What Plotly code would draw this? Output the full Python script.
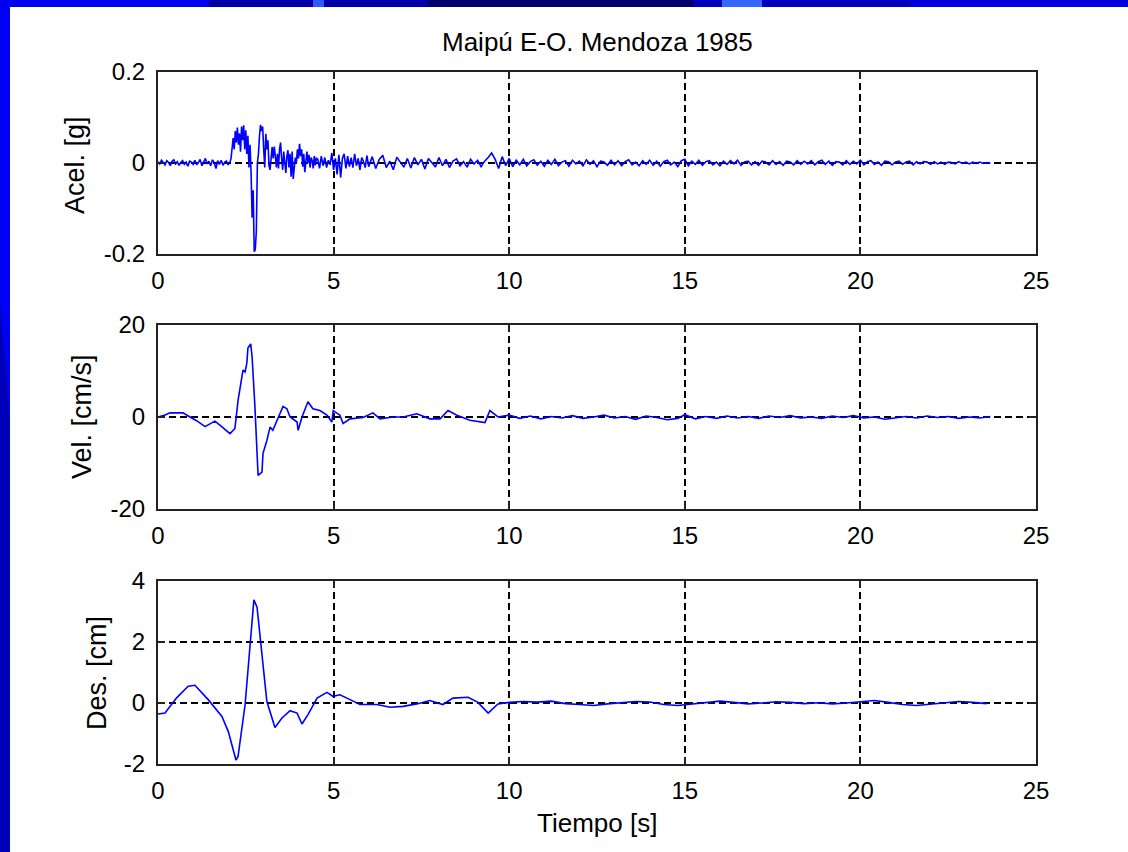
import plotly.graph_objects as go

# ---------------- DATA ----------------
title_text = "Maipú E-O. Mendoza 1985"
x_label = "Tiempo [s]"
y_labels = ["Acel. [g]", "Vel. [cm/s]", "Des. [cm]"]
x_ticks = [0, 5, 10, 15, 20, 25]
acc_ticks = [-0.2, 0, 0.2]
vel_ticks = [-20, 0, 20]
des_ticks = [-2, 0, 2, 4]

acc_t = [
    0.00, 0.05, 0.10, 0.15, 0.20, 0.25, 0.30, 0.35, 0.40, 0.45, 0.50, 0.55, 0.60, 0.65,
    0.70, 0.75, 0.80, 0.85, 0.90, 0.95, 1.00, 1.05, 1.10, 1.15, 1.20, 1.25, 1.30, 1.35,
    1.40, 1.45, 1.50, 1.55, 1.60, 1.65, 1.70, 1.75, 1.80, 1.85, 1.90, 1.95, 2.00, 2.05,
    2.08, 2.11, 2.14, 2.17, 2.20, 2.23, 2.26, 2.29, 2.32, 2.35, 2.38, 2.41, 2.44, 2.47,
    2.50, 2.53, 2.56, 2.59, 2.62, 2.65, 2.68, 2.71, 2.74, 2.77, 2.80, 2.83, 2.86, 2.89,
    2.92, 2.95, 2.98, 3.01, 3.04, 3.07, 3.10, 3.13, 3.16, 3.19, 3.22, 3.25, 3.28, 3.31,
    3.34, 3.37, 3.40, 3.43, 3.46, 3.49, 3.52, 3.55, 3.58, 3.61, 3.64, 3.67, 3.70, 3.73,
    3.76, 3.79, 3.82, 3.85, 3.88, 3.91, 3.94, 3.97, 4.00, 4.03, 4.06, 4.09, 4.12, 4.15,
    4.18, 4.21, 4.24, 4.27, 4.30, 4.33, 4.36, 4.39, 4.42, 4.45, 4.48, 4.51,
    4.55, 4.60, 4.65, 4.70, 4.75, 4.80, 4.85, 4.90, 4.95, 5.00, 5.05, 5.10, 5.15, 5.20,
    5.25, 5.30, 5.35, 5.40, 5.45, 5.50, 5.55, 5.60, 5.65, 5.70, 5.75, 5.80, 5.85, 5.90,
    5.95, 6.00,
    6.1, 6.2, 6.3, 6.4, 6.5, 6.6, 6.7, 6.8, 6.9, 7.0,
    7.1, 7.2, 7.3, 7.4, 7.5, 7.6, 7.7, 7.8, 7.9, 8.0,
    8.1, 8.2, 8.3, 8.4, 8.5, 8.6, 8.7, 8.8, 8.9, 9.0,
    9.1, 9.2, 9.3, 9.4, 9.5, 9.6, 9.7, 9.8, 9.9, 10.0,
    10.1, 10.2, 10.3, 10.4, 10.5, 10.6, 10.7, 10.8, 10.9, 11.0,
    11.1, 11.2, 11.3, 11.4, 11.5, 11.6, 11.7, 11.8, 11.9, 12.0,
    12.1, 12.2, 12.3, 12.4, 12.5, 12.6, 12.7, 12.8, 12.9, 13.0,
    13.1, 13.2, 13.3, 13.4, 13.5, 13.6, 13.7, 13.8, 13.9, 14.0,
    14.1, 14.2, 14.3, 14.4, 14.5, 14.6, 14.7, 14.8, 14.9, 15.0,
    15.1, 15.2, 15.3, 15.4, 15.5, 15.6, 15.7, 15.8, 15.9, 16.0,
    16.1, 16.2, 16.3, 16.4, 16.5, 16.6, 16.7, 16.8, 16.9, 17.0,
    17.1, 17.2, 17.3, 17.4, 17.5, 17.6, 17.7, 17.8, 17.9, 18.0,
    18.1, 18.2, 18.3, 18.4, 18.5, 18.6, 18.7, 18.8, 18.9, 19.0,
    19.1, 19.2, 19.3, 19.4, 19.5, 19.6, 19.7, 19.8, 19.9, 20.0,
    20.1, 20.2, 20.3, 20.4, 20.5, 20.6, 20.7, 20.8, 20.9, 21.0,
    21.1, 21.2, 21.3, 21.4, 21.5, 21.6, 21.7, 21.8, 21.9, 22.0,
    22.1, 22.2, 22.3, 22.4, 22.5, 22.6, 22.7, 22.8, 22.9, 23.0,
    23.1, 23.2, 23.3, 23.4, 23.5, 23.6, 23.7,
]
acc_g = [
    0.003, -0.002, 0.006, 0.002, -0.004, 0.005, 0.001, -0.006, 0.004, 0.007, -0.002, 0.003, -0.005, 0.001,
    0.005, -0.003, 0.002, -0.007, 0.004, 0.002, -0.003, 0.006, -0.004, 0.001, 0.008, -0.006, 0.003, 0.010,
    -0.002, 0.004, -0.006, 0.007, 0.001, -0.012, 0.005, -0.003, 0.006, -0.005, 0.002, 0.004, -0.004, 0.002,
    0.010, 0.035, 0.055, 0.030, 0.070, 0.045, 0.078, 0.040, 0.065, 0.025, 0.080, 0.050, 0.083, 0.030,
    0.072, 0.020, 0.060, -0.010, 0.040, -0.020, -0.120, -0.060, -0.195, -0.190, -0.150, 0.000, 0.020, 0.060,
    0.084, 0.070, 0.080, 0.030, -0.010, 0.064, 0.030, 0.050, -0.005, -0.015, 0.020, 0.035, 0.010, 0.036,
    0.015, -0.010, 0.020, -0.012, 0.030, 0.045, 0.010, -0.015, 0.025, -0.005, -0.022, 0.015, 0.028, -0.010,
    0.020, -0.030, 0.025, -0.035, -0.010, 0.012, 0.000, 0.030, 0.010, 0.042, 0.015, 0.030, -0.008, 0.020,
    -0.020, 0.010, 0.025, 0.000, 0.018, -0.010, 0.012, 0.005, -0.012, 0.015, -0.005, 0.010,
    0.008, -0.012, 0.015, -0.006, 0.012, -0.010, 0.006, -0.004, 0.022, -0.015, 0.010, -0.025, 0.018, -0.032,
    0.010, 0.020, -0.012, 0.015, -0.008, 0.012, -0.010, 0.020, -0.006, 0.010, -0.015, 0.012, 0.004, -0.010,
    0.016, -0.008,
    0.014, -0.012, 0.008, 0.017, -0.010, 0.004, -0.015, 0.013, 0.002, -0.009,
    0.010, -0.011, 0.012, -0.004, 0.008, -0.013, 0.010, 0.001, -0.009, 0.012,
    -0.006, 0.008, -0.010, 0.004, 0.009, -0.006, 0.003, -0.009, 0.008, -0.002,
    0.006, -0.008, 0.004, 0.012, 0.022, 0.008, -0.012, 0.014, -0.006, 0.010,
    -0.008, 0.006, -0.004, 0.008, -0.006, 0.003, 0.007, -0.005, 0.004, -0.007,
    0.006, -0.003, 0.008, -0.006, 0.002, 0.005, -0.007, 0.006, -0.002, 0.004,
    -0.006, 0.007, -0.003, 0.005, -0.008, 0.004, 0.002, -0.005, 0.006, -0.004,
    0.005, -0.006, 0.003, 0.007, -0.004, 0.002, -0.006, 0.005, -0.003, 0.006,
    -0.005, 0.004, -0.007, 0.003, 0.006, -0.004, 0.002, -0.008, 0.005, 0.008,
    -0.006, 0.004, -0.003, 0.006, -0.005, 0.003, 0.005, -0.004, 0.002, -0.006,
    0.004, -0.003, 0.005, -0.002, 0.006, -0.005, 0.002, 0.004, -0.004, 0.003,
    -0.005, 0.004, 0.002, -0.004, 0.005, -0.003, 0.003, -0.005, 0.004, 0.002,
    -0.004, 0.005, -0.003, 0.004, -0.002, 0.005, -0.004, 0.003, 0.006, -0.003,
    0.004, -0.005, 0.003, 0.002, -0.004, 0.005, -0.003, 0.004, -0.002, 0.006,
    -0.004, 0.003, 0.005, -0.003, 0.002, -0.005, 0.004, 0.003, -0.004, 0.002,
    0.004, -0.003, 0.002, 0.004, -0.004, 0.003, -0.002, 0.003, 0.002, -0.003,
    0.003, -0.002, 0.002, -0.003, 0.002, 0.001, -0.002, 0.003, -0.001, 0.002,
    -0.002, 0.002, -0.001, 0.002, -0.001, 0.001, 0.000,
]

vel_t = [
    0.00, 0.15, 0.34, 0.71, 0.91, 1.10, 1.34, 1.50, 1.62, 1.77, 2.05, 2.19, 2.28, 2.42,
    2.48, 2.53, 2.56, 2.64, 2.68, 2.76, 2.82, 2.85, 2.96, 2.99, 3.10, 3.19, 3.27, 3.42,
    3.56, 3.67, 3.76, 3.96, 3.99, 4.10, 4.27, 4.41, 4.61, 4.81, 4.95, 4.99, 5.18, 5.27,
    5.47, 5.84, 6.12, 6.32, 6.69, 6.98, 7.37, 7.74, 8.03, 8.26, 8.51, 8.88, 9.31, 9.45,
    9.68, 10.0, 10.3, 10.6, 10.9, 11.2, 11.5, 11.8, 12.1, 12.4, 12.7, 13.0, 13.3, 13.6,
    13.9, 14.2, 14.5, 14.8, 15.0, 15.3, 15.6, 15.9, 16.2, 16.5, 16.8, 17.1, 17.4, 17.7,
    18.0, 18.3, 18.6, 18.9, 19.2, 19.5, 19.8, 20.1, 20.4, 20.7, 21.0, 21.3, 21.6, 21.9,
    22.2, 22.5, 22.8, 23.1, 23.4, 23.7,
]
vel_cms = [
    0.0, 0.3, 0.9, 0.9, 0.0, -0.8, -2.1, -1.4, -0.9, -1.8, -3.6, -2.5, 3.6, 10.2,
    9.8, 11.7, 15.0, 15.9, 13.0, 2.2, -9.4, -12.7, -12.0, -7.9, -5.1, -2.2, -2.9, 0.0,
    2.3, 1.8, 0.0, -1.1, -2.9, 0.0, 3.3, 1.8, 1.4, 0.4, -1.1, 1.4, 0.4, -1.4,
    -0.4, -0.1, 0.9, -0.4, 0.0, 0.0, 0.7, -0.4, -0.4, 1.4, 0.4, -0.7, -1.2, 1.4,
    0.0, 0.4, -0.3, 0.2, -0.4, 0.1, -0.2, 0.3, -0.3, 0.0, 0.4, -0.2, 0.1, -0.5,
    0.2, -0.1, -0.6, -0.3, 0.5, -0.4, 0.1, -0.3, 0.2, -0.2, 0.1, -0.3, 0.2, -0.1,
    0.3, -0.2, 0.0, -0.3, 0.2, -0.1, 0.3, -0.2, 0.0, -0.5, -0.2, 0.1, -0.2, 0.2,
    -0.1, 0.1, -0.3, 0.0, -0.2, 0.1,
]

des_t = [
    0.00, 0.20, 0.53, 0.86, 1.05, 1.43, 1.82, 2.00, 2.22, 2.28, 2.48, 2.62, 2.73, 2.82,
    2.96, 3.10, 3.33, 3.53, 3.76, 3.96, 4.10, 4.27, 4.53, 4.81, 4.98, 5.18, 5.47, 5.75,
    6.23, 6.61, 6.98, 7.37, 7.74, 8.11, 8.40, 8.83, 9.11, 9.40, 9.68,
    10.0, 10.4, 10.8, 11.2, 11.6, 12.0, 12.4, 12.8, 13.2, 13.6, 14.0, 14.4, 14.8, 15.2,
    15.6, 16.0, 16.4, 16.8, 17.2, 17.6, 18.0, 18.4, 18.8, 19.2, 19.6, 20.0, 20.4, 20.8,
    21.2, 21.6, 22.0, 22.4, 22.8, 23.2, 23.6,
]
des_cm = [
    -0.36, -0.33, 0.17, 0.55, 0.58, 0.11, -0.44, -0.93, -1.87, -1.75, -0.05, 2.04, 3.38, 3.14,
    1.49, 0.05, -0.80, -0.49, -0.25, -0.33, -0.69, -0.38, 0.16, 0.35, 0.22, 0.27, 0.11, -0.05,
    -0.05, -0.14, -0.11, -0.03, 0.08, -0.05, 0.16, 0.19, 0.02, -0.33, -0.03,
    0.02, 0.05, 0.03, 0.06, -0.02, -0.05, -0.08, -0.03, 0.02, 0.05, 0.03, -0.05, -0.08, -0.03,
    0.03, 0.06, 0.02, -0.03, 0.00, 0.04, 0.02, -0.02, 0.01, -0.03, 0.00, 0.05, 0.08, 0.02,
    -0.05, -0.08, -0.04, 0.00, 0.05, 0.02, -0.02,
]

# ---------------- LAYOUT CONSTANTS ----------------
W, H = 1128, 852
FONT = "Liberation Sans, Arial, sans-serif"
FS_TICK = 24
FS_TITLE = 26
FS_YLAB = 27
x_dom = [158 / W, 1036 / W]
y_doms = [[1 - 254 / H, 1 - 72 / H], [1 - 509 / H, 1 - 325 / H], [1 - 764 / H, 1 - 581 / H]]
line_color = "#0000FF"

fig = go.Figure()
series = [(acc_t, acc_g), (vel_t, vel_cms), (des_t, des_cm)]
for i, (tx, vy) in enumerate(series):
    fig.add_trace(go.Scatter(x=tx, y=vy, mode="lines",
                             line=dict(color=line_color, width=1.6),
                             xaxis="x" if i == 0 else f"x{i+1}",
                             yaxis="y" if i == 0 else f"y{i+1}",
                             showlegend=False, hoverinfo="skip"))

common_axis = dict(showline=True, linecolor="#222222", linewidth=2, mirror="ticks",
                   ticks="inside", ticklen=7, tickwidth=1.5, tickcolor="#222222",
                   showgrid=True, gridcolor="#000000", gridwidth=1.5, griddash="7px,4px",
                   zeroline=False,
                   tickfont=dict(family=FONT, size=FS_TICK, color="black"))

y_ranges = [[-0.2, 0.2], [-20, 20], [-2, 4]]
y_tick_lists = [acc_ticks, vel_ticks, des_ticks]
for i in range(3):
    xa = "xaxis" if i == 0 else f"xaxis{i+1}"
    ya = "yaxis" if i == 0 else f"yaxis{i+1}"
    xanchor = "y" if i == 0 else f"y{i+1}"
    yanchor = "x" if i == 0 else f"x{i+1}"
    fig.layout[xa] = dict(common_axis, domain=x_dom, anchor=xanchor, range=[0, 25],
                          tickvals=x_ticks, ticktext=[str(v) for v in x_ticks],
                          ticklabelstandoff=4)
    fig.layout[ya] = dict(common_axis, domain=y_doms[i], anchor=yanchor, range=y_ranges[i],
                          tickvals=y_tick_lists[i], ticktext=[f"{v:g}" for v in y_tick_lists[i]],
                          ticklabelstandoff=6)

annotations = [
    dict(text=title_text, x=597 / W, y=1 - 42 / H, xref="paper", yref="paper",
         showarrow=False, font=dict(family=FONT, size=FS_TITLE, color="black"),
         xanchor="center", yanchor="middle"),
    dict(text=x_label, x=597 / W, y=1 - 823 / H, xref="paper", yref="paper",
         showarrow=False, font=dict(family=FONT, size=FS_TITLE, color="black"),
         xanchor="center", yanchor="middle"),
]
ylab_x = [75, 82, 97]
ylab_y = [165, 417, 673]
for i in range(3):
    annotations.append(dict(text=y_labels[i], x=ylab_x[i] / W, y=1 - ylab_y[i] / H,
                            xref="paper", yref="paper", showarrow=False, textangle=-90,
                            font=dict(family=FONT, size=FS_YLAB, color="black"),
                            xanchor="center", yanchor="middle"))

# slide frame (blue bars at top and left)
def px_rect(x0, y0, x1, y1, color):
    return dict(type="rect", xref="paper", yref="paper", x0=x0 / W, x1=x1 / W,
                y0=1 - y1 / H, y1=1 - y0 / H, fillcolor=color, line=dict(width=0),
                layer="below")

shapes = [
    px_rect(0, 0, 10, 852, "#0000B8"),
    dict(type="path", xref="paper", yref="paper",
         path=f"M 0 1 L {10/W} 1 L {10/W} {1-420/H} L 0 {1-300/H} Z",
         fillcolor="#0000F5", line=dict(width=0), layer="below"),
    px_rect(0, 0, 209, 7, "#0000F0"),
    px_rect(209, 0, 428, 7, "#0000A8"),
    px_rect(428, 0, 694, 7, "#000070"),
    px_rect(694, 0, 910, 7, "#0000C0"),
    px_rect(910, 0, 1128, 7, "#0000DC"),
    px_rect(313, 0, 324, 7, "#3058FF"),
    px_rect(722, 0, 762, 7, "#3566FF"),
]

# no explicit width/height: the fixed-size div below drives the figure size
fig.update_layout(autosize=True, margin=dict(l=0, r=0, t=0, b=0, autoexpand=False),
                  paper_bgcolor="white", plot_bgcolor="white",
                  annotations=annotations, shapes=shapes, showlegend=False)

fig.write_html("out.html", config={"displayModeBar": False, "responsive": False},
               default_width=f"{W}px;position:fixed;left:0px;top:0px;margin:0px",
               default_height=f"{H}px")
